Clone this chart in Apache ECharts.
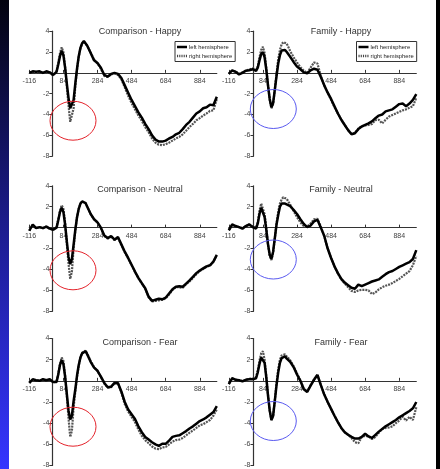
<!DOCTYPE html>
<html><head><meta charset="utf-8">
<script src="https://cdn.jsdelivr.net/npm/echarts@6/dist/echarts.min.js"></script>
<style>html,body{margin:0;padding:0;background:#fff}#c{width:440px;height:469px}</style>
</head><body><div id="c"></div>
<script>
const times = [-116,-96,-76,-56,-36,-16,4,24,44,54,64,74,84,94,104,114,124,134,144,154,164,174,184,194,204,214,224,244,264,284,304,324,344,364,384,404,424,444,464,484,504,524,544,564,584,604,624,644,664,684,704,724,744,764,784,804,824,844,864,884,904,924,944,964,984];
const xTickLabels = ['-116','84','284','484','684','884'];
const seriesNames = ['left hemisphere', 'right hemisphere'];
const panelTitles = ['Comparison - Happy','Family - Happy','Comparison - Neutral','Family - Neutral','Comparison - Fear','Family - Fear'];

const compHappyLeft = [0,0.15,0.1,0.15,0,0.15,0.05,-0.2,0.1, 0.8,1.6,2.1,1.7,0.5,-1.0,-2.4,-3.4,-3.5,-2.6,-1.0,0.4,1.6,2.4,2.85,3.05,2.95,2.6, 1.9,1.2,0.95,0.5,-0.2,-0.35,-0.1,0,-0.1,-0.5,-1.2,-1.9,-2.6,-3.2,-3.8,-4.3,-4.9,-5.4,-6.0,-6.4,-6.6,-6.6,-6.5,-6.3,-6.15,-5.9,-5.75,-5.4,-5.0,-4.7,-4.3,-3.9,-3.7,-3.4,-3.3,-3.05,-3.1,-2.3];
const compHappyRight = [0,0.1,0.05,0.1,-0.05,0.1,0,-0.25,0.2, 1.0,1.9,2.45,2.0,0.6,-1.3,-3.1,-4.7,-4.8,-3.4,-1.3,0.3,1.5,2.3,2.8,3.0,2.9,2.6, 1.95,1.25,0.9,0.4,-0.3,-0.4,-0.15,-0.05,-0.2,-0.6,-1.4,-2.2,-2.9,-3.5,-4.1,-4.6,-5.2,-5.7,-6.3,-6.7,-6.9,-6.95,-6.85,-6.7,-6.5,-6.3,-6.15,-5.9,-5.55,-5.2,-4.9,-4.55,-4.35,-4.1,-3.9,-3.65,-3.6,-2.5];
const famHappyLeft = [-0.1,0.25,0.1,-0.15,0,0.2,0.25,0.35,0.2, 0.5,1.2,1.8,2.0,1.5,0.3,-1.2,-2.5,-3.3,-2.9,-1.6,-0.3,0.9,1.7,2.15,2.3,2.2,2.0, 1.55,1.05,0.6,0.35,0.05,-0.05,0.25,0.4,0.3,-0.4,-1.2,-1.9,-2.5,-3.2,-3.9,-4.5,-5.0,-5.5,-5.9,-5.8,-5.4,-5.15,-5.0,-4.85,-4.65,-4.35,-4.1,-4.0,-3.7,-3.6,-3.5,-3.25,-3.0,-2.95,-3.2,-2.95,-2.6,-2.05];
const famHappyRight = [-0.1,0.2,0.15,-0.1,0.05,0.25,0.3,0.45,0.3, 0.6,1.5,2.2,2.5,1.9,0.5,-1.2,-2.6,-3.4,-3.0,-1.6,-0.1,1.3,2.2,2.75,2.95,2.95,2.8, 2.1,1.5,1.0,0.55,0.2,0.0,0.5,1.0,0.9,-0.3,-1.2,-1.9,-2.6,-3.3,-3.9,-4.5,-5.0,-5.5,-5.85,-5.75,-5.35,-5.1,-5.05,-5.0,-4.9,-4.55,-4.5,-4.85,-4.5,-4.2,-4.05,-3.9,-3.75,-3.6,-3.5,-3.35,-3.2,-2.4];
const compNeutralLeft = [-0.3,0.3,-0.05,0.05,-0.05,0.1,-0.1,-0.2,0.0, 0.7,1.5,1.9,1.5,0.3,-1.3,-2.8,-3.5,-3.0,-1.6,-0.2,1.0,1.8,2.3,2.5,2.5,2.35,2.0, 1.3,0.8,0.5,0.0,-0.75,-1.0,-0.8,-1.15,-0.9,-1.6,-2.3,-2.9,-3.55,-4.2,-4.8,-5.3,-5.8,-6.6,-7.0,-6.9,-6.8,-6.85,-6.7,-6.3,-5.9,-5.65,-5.6,-5.65,-5.35,-5.05,-4.7,-4.35,-4.1,-3.9,-3.7,-3.6,-3.25,-2.6];
const compNeutralRight = [-0.3,0.25,-0.05,0.05,-0.05,0.1,-0.1,-0.2,0.05, 0.8,1.6,2.15,1.8,0.5,-1.5,-3.4,-4.9,-4.2,-2.0,-0.3,1.0,1.8,2.3,2.5,2.5,2.35,2.0, 1.3,0.8,0.5,-0.05,-0.8,-1.05,-0.85,-1.2,-0.95,-1.65,-2.35,-2.95,-3.6,-4.25,-4.85,-5.35,-5.85,-6.65,-7.05,-7.0,-6.95,-6.9,-6.75,-6.4,-5.95,-5.7,-5.7,-5.75,-5.4,-5.15,-4.8,-4.45,-4.15,-3.95,-3.75,-3.6,-3.25,-2.65];
const famNeutralLeft = [-0.25,0.3,0.15,0.05,-0.1,0.15,0.3,0.05,-0.1, 0.4,1.3,1.9,1.75,1.0,-0.2,-1.6,-2.6,-3.0,-2.3,-1.0,0.3,1.2,2.0,2.3,2.4,2.3,2.2, 2.05,1.7,1.3,0.8,0.35,0.05,0.2,0.6,0.75,0.0,-0.8,-2.0,-2.9,-3.7,-4.35,-4.9,-5.25,-5.5,-5.75,-5.85,-5.45,-5.6,-5.45,-5.3,-5.15,-5.05,-4.95,-4.7,-4.45,-4.25,-4.15,-3.95,-3.75,-3.6,-3.45,-3.3,-3.0,-2.15];
const famNeutralRight = [-0.25,0.25,0.15,0.05,-0.05,0.15,0.3,0.1,0.0, 0.5,1.6,2.3,2.2,1.3,0.0,-1.6,-2.7,-3.1,-2.4,-1.0,0.4,1.5,2.3,2.7,2.9,2.9,2.75, 2.2,1.6,1.0,0.5,0.15,0.1,0.4,0.8,0.85,0.1,-0.8,-2.0,-2.9,-3.7,-4.4,-4.95,-5.35,-5.7,-6.05,-6.15,-6.0,-5.95,-5.95,-6.0,-6.35,-6.2,-5.9,-5.7,-5.55,-5.45,-5.3,-5.1,-4.9,-4.65,-4.4,-4.15,-3.6,-2.7];
const compFearLeft = [-0.2,0.15,0.05,0.0,0.15,0.05,0.15,-0.1,-0.1, 0.6,1.5,1.95,1.6,0.4,-1.2,-2.8,-3.65,-3.3,-1.9,-0.8,0.5,1.5,2.2,2.6,2.75,2.8,2.5, 1.8,1.25,0.95,0.4,-0.2,-0.6,-0.55,-0.2,-0.2,-1.0,-2.0,-2.7,-3.15,-3.6,-4.3,-4.85,-5.3,-5.55,-5.8,-6.0,-6.15,-5.95,-5.95,-5.65,-5.3,-5.2,-5.15,-4.95,-4.75,-4.5,-4.3,-4.05,-3.8,-3.65,-3.45,-3.2,-2.95,-2.4];
const compFearRight = [-0.2,0.1,0.05,0.0,0.1,0.05,0.1,-0.15,-0.05, 0.7,1.6,2.2,1.9,0.6,-1.4,-3.5,-5.3,-4.7,-2.5,-1.0,0.4,1.4,2.2,2.65,2.8,2.85,2.55, 1.85,1.3,0.95,0.35,-0.25,-0.65,-0.6,-0.25,-0.25,-1.1,-2.2,-2.9,-3.4,-3.9,-4.6,-5.2,-5.6,-5.9,-6.2,-6.4,-6.45,-6.3,-6.25,-6.0,-5.75,-5.6,-5.55,-5.4,-5.15,-4.9,-4.7,-4.45,-4.2,-4.1,-3.9,-3.7,-3.3,-2.7];
const famFearLeft = [-0.3,0.25,0.1,0.05,-0.05,0.1,0.15,0.15,0.25, 0.8,1.6,2.2,2.3,1.7,0.3,-1.4,-2.8,-3.7,-3.3,-1.9,-0.4,0.8,1.7,2.15,2.3,2.3,2.1, 1.8,1.3,0.6,0.0,-0.8,-1.05,-0.45,0.1,0.55,-0.4,-1.3,-2.0,-2.65,-3.3,-3.9,-4.45,-4.85,-5.1,-5.3,-5.45,-5.45,-5.3,-5.0,-5.25,-5.4,-5.1,-4.8,-4.55,-4.3,-4.1,-3.9,-3.7,-3.45,-3.25,-3.05,-2.85,-2.6,-2.0];
const famFearRight = [-0.3,0.2,0.1,0.05,0.0,0.1,0.2,0.2,0.35, 1.0,1.9,2.6,2.8,2.0,0.5,-1.3,-2.8,-3.7,-3.3,-1.8,-0.2,1.1,2.0,2.4,2.5,2.5,2.3, 1.95,1.4,0.7,0.05,-0.75,-1.0,-0.4,0.15,0.6,-0.35,-1.3,-2.0,-2.65,-3.3,-3.9,-4.45,-4.85,-5.1,-5.4,-5.8,-5.9,-5.3,-5.2,-5.25,-5.5,-5.3,-4.9,-4.55,-4.45,-4.4,-4.3,-4.0,-3.75,-3.4,-3.75,-3.4,-3.7,-2.5];

const panels = [
  [compHappyLeft, compHappyRight], [famHappyLeft, famHappyRight],
  [compNeutralLeft, compNeutralRight], [famNeutralLeft, famNeutralRight],
  [compFearLeft, compFearRight], [famFearLeft, famFearRight]
];

const FONT = "'Liberation Sans', Arial, sans-serif";
const Y_MIN = -8, Y_MAX = 4;
const colLeft = [29.3, 228.8];
const colW = 187.5;
const rowTop = [31.2, 185.8, 338.5];
const rowH = [125, 125.5, 127];
const yOffset = [-23, -24.7];
const titleX = [140, 341];
const titleY = [27.5, 185.5, 338.5];

const grid = [], xAxis = [], yAxis = [], series = [], title = [];
panels.forEach((p, i) => {
  const r = Math.floor(i / 2), c = i % 2;
  grid.push({left: colLeft[c], top: rowTop[r], width: colW, height: rowH[r], containLabel: false});
  // place the x axis on the zero line of the y scale
  const zeroFromBottom = rowH[r] * (0 - Y_MIN) / (Y_MAX - Y_MIN);
  xAxis.push({
    gridIndex: i, type: 'value', min: -116, max: 984, interval: 200, position: 'bottom', offset: -zeroFromBottom,
    axisLine: {onZero: false, lineStyle: {color: '#333', width: 1.2}},
    axisTick: {inside: true, length: 3, lineStyle: {color: '#333'}},
    axisLabel: {fontSize: 7, color: '#444', margin: 5, fontFamily: FONT, showMinLabel: true, showMaxLabel: false,
      formatter: v => { const k = xTickLabels.indexOf(String(Math.round(v))); return k >= 0 ? xTickLabels[k] : ''; }},
    splitLine: {show: false}
  });
  yAxis.push({
    gridIndex: i, type: 'value', min: Y_MIN, max: Y_MAX, interval: 2, offset: yOffset[c],
    axisLine: {show: true, onZero: false, lineStyle: {color: '#333', width: 1.2}},
    axisTick: {show: true, length: 3, lineStyle: {color: '#333'}},
    axisLabel: {fontSize: 7, color: '#444', margin: 3, fontFamily: FONT, formatter: v => v === 0 ? '' : String(v)},
    splitLine: {show: false}
  });
  title.push({text: panelTitles[i], left: titleX[c], top: titleY[r], textAlign: 'center', padding: 0,
    textStyle: {fontSize: 9, fontWeight: 'normal', color: '#333', fontFamily: FONT}});
  series.push({
    name: seriesNames[1], type: 'line', xAxisIndex: i, yAxisIndex: i, symbol: 'none', silent: true, z: 2,
    data: times.map((t, k) => [t, p[1][k]]),
    lineStyle: {color: '#555', width: 2.2, type: [2, 1]}, itemStyle: {color: '#555'}
  });
  series.push({
    name: seriesNames[0], type: 'line', xAxisIndex: i, yAxisIndex: i, symbol: 'none', silent: true, z: 3,
    data: times.map((t, k) => [t, p[0][k]]),
    lineStyle: {color: '#000', width: 2.5, type: 'solid'}, itemStyle: {color: '#000'}
  });
});

const legendBase = {
  orient: 'vertical', top: 41.5, itemWidth: 10, itemHeight: 2.5, itemGap: 2, symbolKeepAspect: false,
  data: [
    {name: seriesNames[0], icon: 'path://M0,0h10v1h-10z', itemStyle: {color: '#000'}},
    {name: seriesNames[1], icon: 'path://M0,0h1v1h-1zM2,0h1v1h-1zM4,0h1v1h-1zM6,0h1v1h-1zM8,0h1v1h-1z', itemStyle: {color: '#444'}}
  ],
  padding: [2, 3, 2, 2], borderColor: '#333', borderWidth: 1, backgroundColor: '#fff',
  textStyle: {fontSize: 5.8, color: '#222', fontFamily: FONT, padding: [0, 0, 0, -3], lineHeight: 7}, selectedMode: false
};
const legend = [Object.assign({}, legendBase, {left: 175}), Object.assign({}, legendBase, {left: 356.5})];

const ellipses = [
  {cx: 73, cy: 120.7, c: '#e4232b'}, {cx: 273.3, cy: 109, c: '#5a5af0'},
  {cx: 73, cy: 270.3, c: '#e4232b'}, {cx: 273.3, cy: 259.5, c: '#5a5af0'},
  {cx: 73, cy: 426.7, c: '#e4232b'}, {cx: 273.3, cy: 421, c: '#5a5af0'}
];
const graphic = [
  {type: 'rect', left: 0, top: 0, z: 100, shape: {width: 9, height: 469},
   style: {fill: {type: 'linear', x: 0, y: 0, x2: 0, y2: 1, colorStops: [
     {offset: 0, color: '#03030f'}, {offset: 0.5, color: '#1d1d92'}, {offset: 1, color: '#3535ff'}]}}},
  {type: 'rect', left: 436, top: 0, z: 100, shape: {width: 4, height: 469}, style: {fill: '#000'}}
].concat(ellipses.map(e => ({type: 'ellipse', z: 100, silent: true,
  shape: {cx: e.cx, cy: e.cy, rx: 23, ry: 19.5}, style: {fill: 'none', stroke: e.c, lineWidth: 1}})));

const chart = echarts.init(document.getElementById('c'), null, {renderer: 'canvas'});
chart.setOption({
  backgroundColor: '#fff', animation: false,
  title, grid, xAxis, yAxis, series, legend, graphic
});
</script></body></html>
